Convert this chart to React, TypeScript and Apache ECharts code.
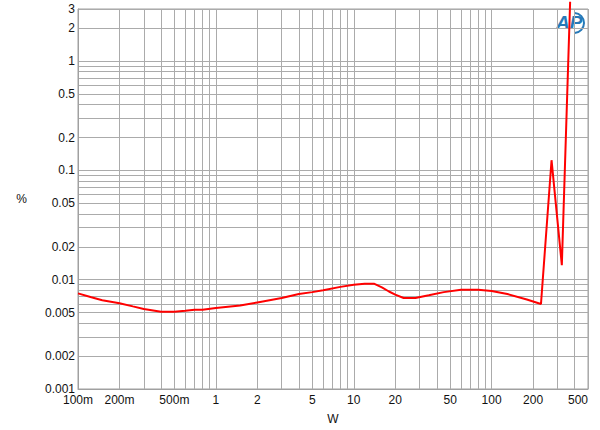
import React, { useEffect, useRef } from "react";
import * as echarts from "echarts";

// Output power (W) and THD+N (%)
const powerW = [
  0.1, 0.125, 0.15, 0.2, 0.25, 0.3, 0.4, 0.5, 0.6, 0.7, 0.8, 1, 1.5, 2, 3, 4, 5, 6, 8, 10,
  12, 14, 16, 18, 20, 23, 28, 35, 45, 60, 80, 100, 130, 180, 228, 272, 323, 371,
];
const thdnPct = [
  0.0075, 0.0069, 0.0065, 0.0061, 0.0057, 0.0054, 0.0051, 0.0051, 0.0052, 0.0053, 0.0053,
  0.0055, 0.0058, 0.0062, 0.0068, 0.0074, 0.0077, 0.008, 0.0086, 0.009, 0.0092, 0.0092,
  0.0085, 0.0078, 0.0073, 0.0068, 0.0068, 0.0072, 0.0077, 0.0081, 0.0081, 0.0079, 0.0074,
  0.0066, 0.006, 0.124, 0.0136, 3.5,
];

const xLabelValues = [0.1, 0.2, 0.5, 1, 2, 5, 10, 20, 50, 100, 200, 500];
const xLabelTexts = ["100m", "200m", "500m", "1", "2", "5", "10", "20", "50", "100", "200", "500"];
const yLabelValues = [0.001, 0.002, 0.005, 0.01, 0.02, 0.05, 0.1, 0.2, 0.5, 1, 2, 3];
const yLabelTexts = ["0.001", "0.002", "0.005", "0.01", "0.02", "0.05", "0.1", "0.2", "0.5", "1", "2", "3"];

const xGridValues = [
  0.1, 0.2, 0.3, 0.4, 0.5, 0.6, 0.7, 0.8, 0.9, 1, 2, 3, 4, 5, 6, 7, 8, 9, 10, 20, 30, 40, 50,
  60, 70, 80, 90, 100, 200, 300, 400, 500,
];
const yGridValues = [
  0.001, 0.002, 0.003, 0.004, 0.005, 0.006, 0.007, 0.008, 0.009, 0.01, 0.02, 0.03, 0.04, 0.05,
  0.06, 0.07, 0.08, 0.09, 0.1, 0.2, 0.3, 0.4, 0.5, 0.6, 0.7, 0.8, 0.9, 1, 2, 3,
];

function lookup(values: number[], texts: string[], v: number) {
  for (let i = 0; i < values.length; i++) {
    if (Math.abs(Math.log10(values[i]) - Math.log10(v)) < 1e-3) return texts[i];
  }
  return "";
}

const FONT = "Liberation Sans, Arial, sans-serif";
const GRID_COLOR = "#ababab";

export default function App() {
  const ref = useRef<HTMLDivElement>(null);
  useEffect(() => {
    document.body.style.margin = "0";
    if (!ref.current) return;
    const chart = echarts.init(ref.current, null, { renderer: "svg" });
    chart.setOption({
      animation: false,
      backgroundColor: "#ffffff",
      grid: {
        left: 78,
        right: 12,
        top: 9,
        bottom: 40,
        show: true,
        borderColor: "#a0a0a0",
        borderWidth: 1,
      },
      xAxis: {
        type: "log",
        logBase: 10,
        min: 0.1,
        max: 500,
        name: "W",
        nameLocation: "middle",
        nameGap: 24,
        nameTextStyle: { fontFamily: FONT, fontSize: 12, color: "#111" },
        axisLine: { show: true, lineStyle: { color: "#a0a0a0" } },
        axisTick: { show: false, customValues: xGridValues },
        axisLabel: {
          customValues: xLabelValues,
          fontFamily: FONT,
          fontSize: 12,
          color: "#111",
          margin: 5,
          alignMaxLabel: "right",
          formatter: (v: number) => lookup(xLabelValues, xLabelTexts, v),
        },
        splitLine: { show: true, lineStyle: { color: GRID_COLOR, width: 1 } },
      },
      yAxis: {
        type: "log",
        logBase: 10,
        min: 0.001,
        max: 3,
        name: "%",
        nameLocation: "middle",
        nameRotate: 0,
        nameGap: 51,
        nameTextStyle: { fontFamily: FONT, fontSize: 12, color: "#111" },
        axisLine: { show: true, lineStyle: { color: "#a0a0a0" } },
        axisTick: { show: false, customValues: yGridValues },
        axisLabel: {
          customValues: yLabelValues,
          fontFamily: FONT,
          fontSize: 12,
          color: "#111",
          margin: 3,
          formatter: (v: number) => lookup(yLabelValues, yLabelTexts, v),
        },
        splitLine: { show: true, lineStyle: { color: GRID_COLOR, width: 1 } },
      },
      series: [
        {
          type: "line",
          data: powerW.map((p, i) => [p, thdnPct[i]]),
          symbol: "none",
          clip: false,
          z: 3,
          lineStyle: { color: "#ff0000", width: 2 },
        },
      ],
      graphic: [
        {
          type: "text",
          x: 556,
          y: 13,
          style: {
            text: "AP",
            font: "italic bold 19px Liberation Sans, Arial, sans-serif",
            fill: "#2679b8",
          },
        },
        {
          type: "arc",
          shape: { cx: 574, cy: 23, r: 10, startAngle: -1.5, endAngle: 1.5 },
          style: { stroke: "#2679b8", lineWidth: 2, fill: "none" },
        },
      ],
    });
    return () => chart.dispose();
  }, []);
  return <div ref={ref} style={{ width: 600, height: 430 }} />;
}
